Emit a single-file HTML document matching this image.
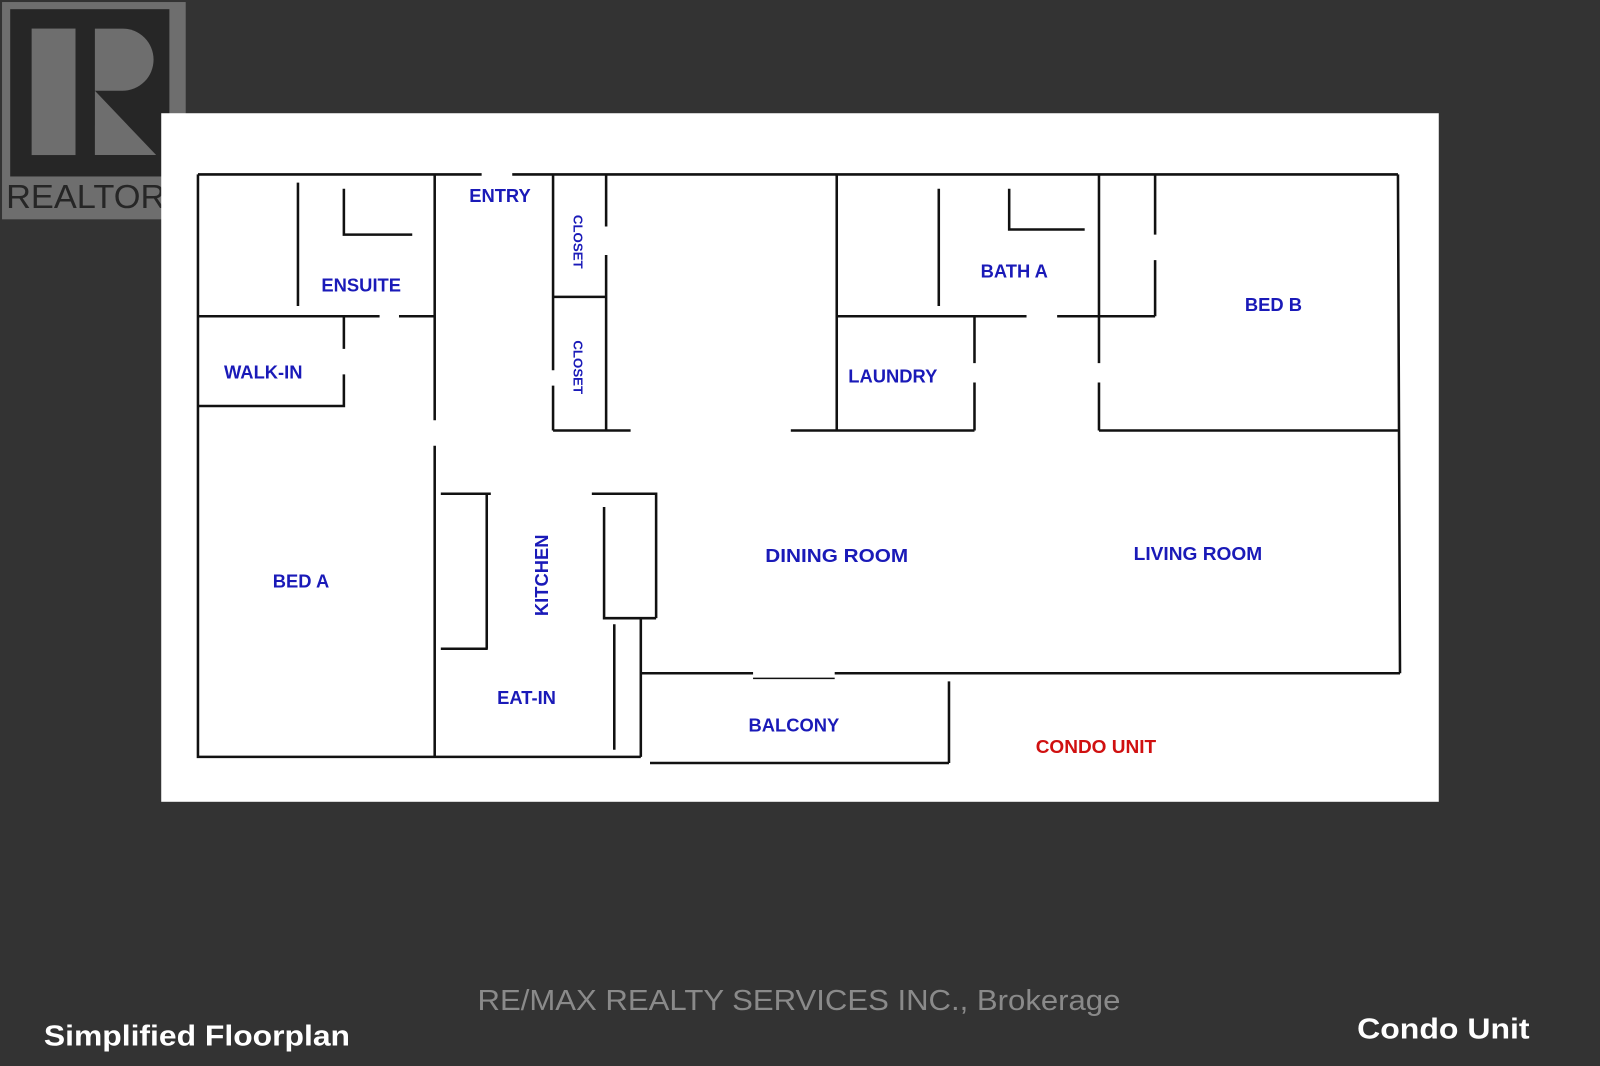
<!DOCTYPE html>
<html><head><style>
html,body{margin:0;padding:0;background:#333;}
svg{display:block}
</style></head><body>
<svg width="1600" height="1066" viewBox="0 0 1568 1045" preserveAspectRatio="none" xmlns="http://www.w3.org/2000/svg">
<rect width="1568" height="1045" fill="#333"/>
<!-- logo -->
<rect x="2" y="2" width="180" height="213" fill="#6e6e6e"/>
<rect x="10" y="9" width="156" height="164" fill="#262626"/>
<rect x="31" y="28" width="43" height="124" fill="#6e6e6e"/>
<path d="M93,28 H120 A30,30 0 0 1 120,89 H93 Z" fill="#6e6e6e"/>
<path d="M93,89 L153,152 H93 Z" fill="#6e6e6e"/>
<text x="6" y="204" font-family="Liberation Sans, sans-serif" font-size="33" fill="#262626" textLength="156" lengthAdjust="spacingAndGlyphs">REALTOR</text>
<text x="164" y="187" font-family="Liberation Sans, sans-serif" font-size="13" fill="#262626">®</text>
<rect x="158" y="111" width="1252" height="675" fill="#fff"/>
<g stroke="#111" stroke-width="2.5" fill="none">
<path d="M194,171H472M502,171H1370M194,171V742H628"/>
<path d="M292,179V300M337,185V230H404M194,310H372M391,310H426M426,171V412M337,310V342M337,367V398H194M426,437V742"/>
<path d="M542,171V363M542,378V422M594,171V222M594,250V422M542,291H594M542,422H618"/>
<path d="M432,484H481M477,484V636M432,636H478M580,484H643V606M592,497V606H643M602,612V735M628,606V742"/>
<path d="M628,660H738M818,660H1372M930,668V748M637,748H930M1370,171L1372,660"/>
<path d="M775,422H820M820,171V422M820,422H955M955,310V356M955,375V422M820,310H1006M1036,310H1132M920,185V300M989,185V225H1063M1077,171V356M1077,375V422M1077,422H1370M1132,171V230M1132,255V310"/>
</g>
<path d="M738,665H818" stroke="#111" stroke-width="1.5"/>
<g font-family="Liberation Sans, sans-serif" font-weight="bold" font-size="18" fill="#1a1ab8" text-anchor="middle">
<text x="490" y="198">ENTRY</text>
<text x="354" y="286">ENSUITE</text>
<text x="258" y="371">WALK-IN</text>
<text x="295" y="576">BED A</text>
<text x="516" y="690">EAT-IN</text>
<text x="778" y="717">BALCONY</text>
<text x="820" y="551" textLength="140" lengthAdjust="spacingAndGlyphs">DINING ROOM</text>
<text x="1174" y="549" textLength="126" lengthAdjust="spacingAndGlyphs">LIVING ROOM</text>
<text x="994" y="272">BATH A</text>
<text x="1248" y="305">BED B</text>
<text x="875" y="375">LAUNDRY</text>
<text transform="translate(537,564) rotate(-90)">KITCHEN</text>
<text font-size="13" transform="translate(562,237) rotate(90)">CLOSET</text>
<text font-size="13" transform="translate(562,360) rotate(90)">CLOSET</text>
<text x="1074" y="738" fill="#d01010" textLength="118" lengthAdjust="spacingAndGlyphs">CONDO UNIT</text>
</g>
<text x="468" y="990" font-family="Liberation Sans, sans-serif" font-size="28" fill="#8a8a8a" textLength="630" lengthAdjust="spacingAndGlyphs">RE/MAX REALTY SERVICES INC., Brokerage</text>
<text x="43" y="1025" font-family="Liberation Sans, sans-serif" font-weight="bold" font-size="28" fill="#fff" textLength="300" lengthAdjust="spacingAndGlyphs">Simplified Floorplan</text>
<text x="1330" y="1018" font-family="Liberation Sans, sans-serif" font-weight="bold" font-size="28" fill="#fff" textLength="169" lengthAdjust="spacingAndGlyphs">Condo Unit</text>
</svg>
</body></html>
